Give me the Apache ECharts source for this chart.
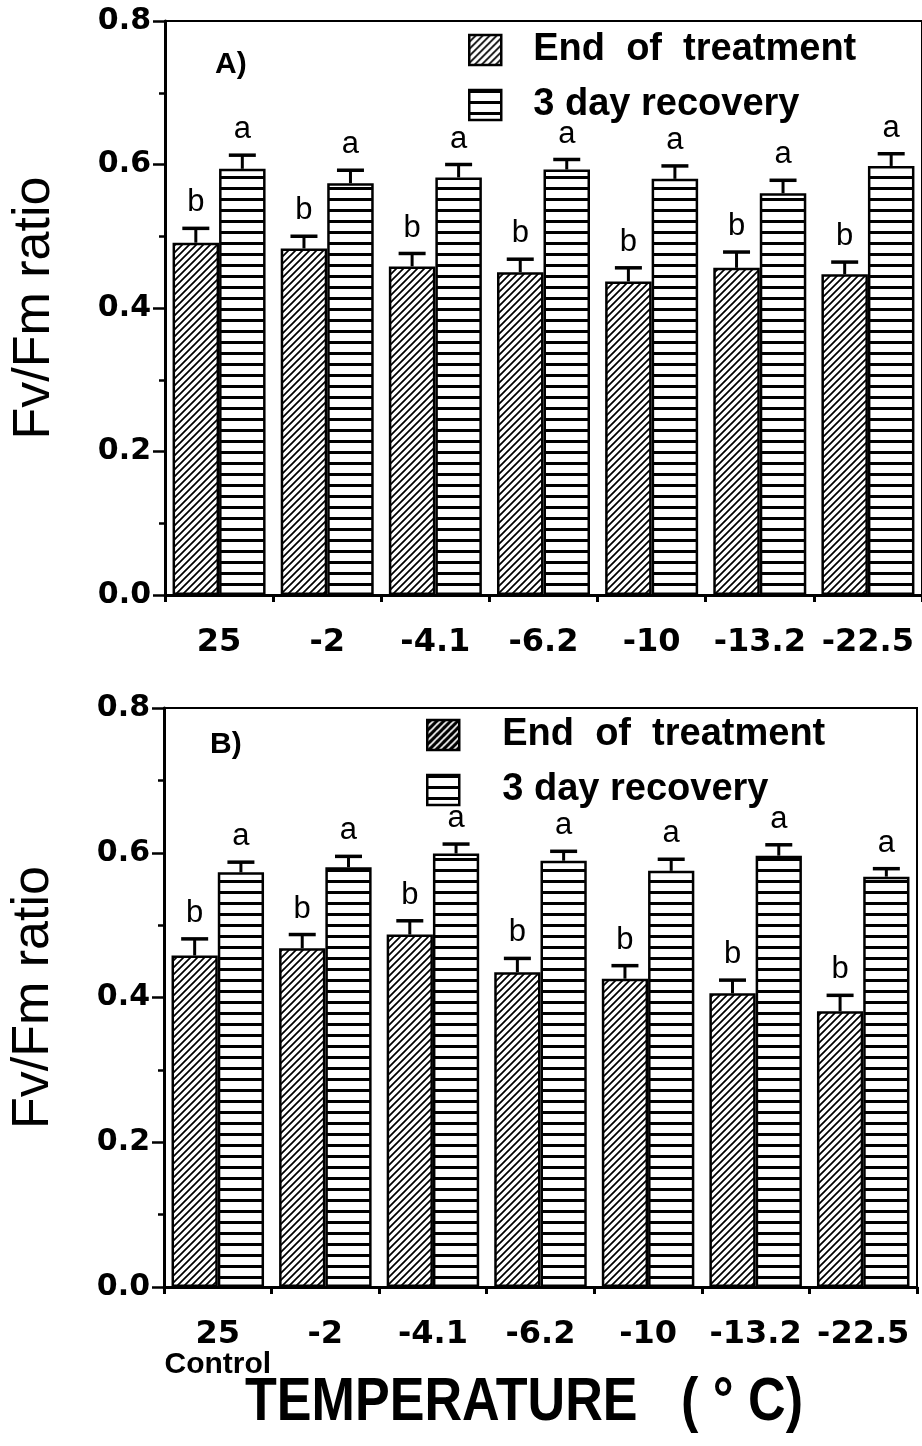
<!DOCTYPE html>
<html>
<head>
<meta charset="utf-8">
<script src="https://cdn.jsdelivr.net/npm/echarts@6/dist/echarts.min.js"></script>
<style>
html,body{margin:0;padding:0;background:#fff;}
#chart{width:922px;height:1446px;}
</style>
</head>
<body>
<div id="chart"></div>
<script>
// ---------- DATA ----------
const categories = ['25', '-2', '-4.1', '-6.2', '-10', '-13.2', '-22.5'];
const subLabelsB = ['Control', '', '', '', '', '', ''];
const seriesNames = ['End of treatment', '3 day recovery'];

// Panel A
const endA   = [0.491, 0.483, 0.458, 0.450, 0.437, 0.456, 0.447];
const endSeA = [0.020, 0.017, 0.018, 0.018, 0.019, 0.022, 0.017];
const recA   = [0.594, 0.574, 0.582, 0.593, 0.580, 0.560, 0.598];
const recSeA = [0.019, 0.018, 0.018, 0.014, 0.018, 0.018, 0.017];
const endLettersA = ['b', 'b', 'b', 'b', 'b', 'b', 'b'];
const recLettersA = ['a', 'a', 'a', 'a', 'a', 'a', 'a'];

// Panel B
const endB   = [0.458, 0.468, 0.487, 0.435, 0.426, 0.406, 0.381];
const endSeB = [0.023, 0.019, 0.019, 0.019, 0.018, 0.018, 0.022];
const recB   = [0.573, 0.580, 0.599, 0.589, 0.575, 0.596, 0.567];
const recSeB = [0.014, 0.015, 0.013, 0.013, 0.016, 0.015, 0.011];
const endLettersB = ['b', 'b', 'b', 'b', 'b', 'b', 'b'];
const recLettersB = ['a', 'a', 'a', 'a', 'a', 'a', 'a'];

const yTickLabels = { '0': '0.0', '0.2': '0.2', '0.4': '0.4', '0.6': '0.6', '0.8': '0.8' };

// ---------- PATTERNS ----------
function hatchPattern(bg, fg, lw) {
  const s = 7;
  const c = document.createElement('canvas');
  c.width = s; c.height = s;
  const g = c.getContext('2d');
  g.fillStyle = bg; g.fillRect(0, 0, s, s);
  g.strokeStyle = fg; g.lineWidth = lw;
  g.beginPath();
  g.moveTo(-1, s + 1); g.lineTo(s + 1, -1);
  g.moveTo(-2, 2); g.lineTo(2, -2);
  g.moveTo(s - 2, s + 2); g.lineTo(s + 2, s - 2);
  g.stroke();
  return { image: c, repeat: 'repeat' };
}
function stripePattern() {
  const c = document.createElement('canvas');
  c.width = 4; c.height = 11;
  const g = c.getContext('2d');
  g.fillStyle = '#fff'; g.fillRect(0, 0, 4, 11);
  g.fillStyle = '#000'; g.fillRect(0, 0, 4, 3);
  return { image: c, repeat: 'repeat' };
}
const hatch = hatchPattern('#fff', '#000', 1.7);
const hatchDark = hatchPattern('#000', '#fff', 1.6);
const stripes = stripePattern();

const CAT_GAP = 0.14;

function errorSeries(name, axisIdx, means, ses, letters, side) {
  return {
    type: 'custom',
    xAxisIndex: axisIdx, yAxisIndex: axisIdx,
    z: 5,
    silent: true,
    data: means.map((v, i) => [i, v, ses[i]]),
    renderItem: function (params, api) {
      const i = api.value(0), v = api.value(1), se = api.value(2);
      const band = api.size([1, 0])[0];
      const bw = band * (1 - CAT_GAP) / 2;
      const base = api.coord([i, v]);
      const top = api.coord([i, v + se]);
      const x = base[0] + side * bw / 2;
      const capHalf = 13.5;
      return {
        type: 'group',
        children: [
          { type: 'line', shape: { x1: x, y1: base[1], x2: x, y2: top[1] }, style: { stroke: '#000', lineWidth: 3 } },
          { type: 'line', shape: { x1: x - capHalf, y1: top[1], x2: x + capHalf, y2: top[1] }, style: { stroke: '#000', lineWidth: 3.5 } },
          { type: 'text', x: x, y: top[1] - 10,
            style: { text: letters[params.dataIndex], fill: '#000', fontFamily: 'Liberation Sans', fontSize: 31,
                     align: 'center', verticalAlign: 'bottom' } }
        ]
      };
    }
  };
}

function barSeries(name, axisIdx, data, color) {
  return {
    name: name, type: 'bar', xAxisIndex: axisIdx, yAxisIndex: axisIdx,
    data: data, barGap: '0%', barCategoryGap: (CAT_GAP * 100) + '%',
    itemStyle: { color: color, borderColor: '#000', borderWidth: 2.5 }
  };
}

function xAxis(idx, withSub) {
  return {
    type: 'category', gridIndex: idx, data: categories,
    axisLine: { lineStyle: { color: '#000', width: 3 } },
    axisTick: { show: true, length: 7, lineStyle: { color: '#000', width: 3 } },
    axisLabel: {
      color: '#000', fontFamily: 'DejaVu Sans', fontWeight: 'bold', fontSize: 32, margin: 32, interval: 0,
      formatter: withSub ? function (v, i) { return subLabelsB[i] ? v + '\n{c|' + subLabelsB[i] + '}' : v; } : null,
      rich: { c: { fontFamily: 'Liberation Sans', fontWeight: 'bold', fontSize: 30, lineHeight: 28, color: '#000' } }
    },
    splitLine: { show: false }
  };
}
function yAxis(idx) {
  return {
    type: 'value', gridIndex: idx, min: 0, max: 0.8, interval: 0.2,
    name: 'Fv/Fm ratio', nameLocation: 'middle', nameGap: 104,
    nameTextStyle: { color: '#000', fontFamily: 'Liberation Sans', fontSize: 52 },
    axisLine: { show: true, lineStyle: { color: '#000', width: 3 } },
    axisTick: { show: true, length: 12, lineStyle: { color: '#000', width: 2.5 } },
    minorTick: { show: true, splitNumber: 2, length: 6, lineStyle: { color: '#000', width: 2.5 } },
    axisLabel: { color: '#000', fontFamily: 'DejaVu Sans', fontWeight: 'bold', fontSize: 30, margin: 14,
                 formatter: function (v) { return yTickLabels[String(+v.toFixed(1))] || v.toFixed(1); } },
    splitLine: { show: false }
  };
}
function legend(left, top, gapText, firstColor) {
  return {
    left: left, top: top, orient: 'vertical', itemWidth: 32, itemHeight: 30, itemGap: 17,
    icon: 'rect',
    data: [
      { name: seriesNames[0], itemStyle: { color: firstColor, borderColor: '#000', borderWidth: 2.5 } },
      { name: seriesNames[1], itemStyle: { color: stripes, borderColor: '#000', borderWidth: 2.5 } }
    ],
    formatter: function (n) { return n === seriesNames[0] ? 'End  of  treatment' : n; },
    textStyle: { color: '#000', fontFamily: 'Liberation Sans', fontWeight: 'bold', fontSize: 38, lineHeight: 30,
                 padding: [0, 0, 0, gapText] },
    selectedMode: false
  };
}

const chart = echarts.init(document.getElementById('chart'), null, { renderer: 'canvas' });
chart.setOption({
  animation: false,
  backgroundColor: '#fff',
  grid: [
    { left: 165, top: 21, width: 760, height: 574, show: true, borderColor: '#000', borderWidth: 2, backgroundColor: 'transparent' },
    { left: 157, top: 708, width: 760, height: 579, show: true, borderColor: '#000', borderWidth: 2, backgroundColor: 'transparent' }
  ],
  legend: [legend(463, 26, 27, hatch), legend(421, 711, 38, hatchDark)],
  xAxis: [xAxis(0, false), xAxis(1, true)],
  yAxis: [yAxis(0), yAxis(1)],
  series: [
    barSeries(seriesNames[0], 0, endA, hatch),
    barSeries(seriesNames[1], 0, recA, stripes),
    barSeries(seriesNames[0], 1, endB, hatch),
    barSeries(seriesNames[1], 1, recB, stripes),
    errorSeries('eA', 0, endA, endSeA, endLettersA, -1),
    errorSeries('rA', 0, recA, recSeA, recLettersA, 1),
    errorSeries('eB', 1, endB, endSeB, endLettersB, -1),
    errorSeries('rB', 1, recB, recSeB, recLettersB, 1)
  ],
  graphic: [
    { type: 'text', x: 215, y: 65, style: { text: 'A)', fill: '#000', fontFamily: 'Liberation Sans', fontWeight: 'bold', fontSize: 30, verticalAlign: 'middle' } },
    { type: 'text', x: 210, y: 745, style: { text: 'B)', fill: '#000', fontFamily: 'Liberation Sans', fontWeight: 'bold', fontSize: 30, verticalAlign: 'middle' } },
    { type: 'text', x: 245, y: 1403, scaleX: 0.84, style: { text: 'TEMPERATURE   ( \u00B0 C)', fill: '#000', fontFamily: 'Liberation Sans', fontWeight: 'bold', fontSize: 62, verticalAlign: 'middle' } }
  ]
});
</script>
</body>
</html>
